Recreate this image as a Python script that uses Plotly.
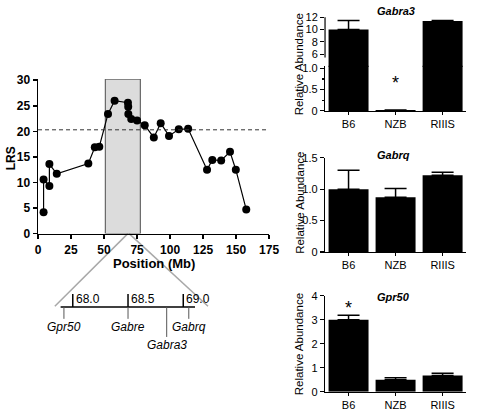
import plotly.graph_objects as go

W, H = 480, 413

# ---------------- data ----------------
position_mb = [4.2, 4.2, 8.6, 8.6, 14.2, 38.1, 43.0, 46.4, 53.0, 58.0, 68.1, 68.3, 68.4,
               70.6, 75.0, 80.8, 87.7, 92.9, 99.2, 106.6, 113.7, 128.0, 132.0, 138.7,
               145.4, 149.8, 157.7]
lrs = [4.2, 10.6, 9.3, 13.6, 11.7, 13.7, 16.9, 17.0, 23.4, 26.0, 25.6, 24.8, 23.4,
       22.4, 22.1, 21.2, 18.8, 21.6, 19.1, 20.4, 20.5, 12.5, 14.4, 14.3, 16.0, 12.5, 4.7]
threshold = 20.3
region_mb = [51.0, 77.5]
zoom_mb = [68.0, 69.0]

map_ticks = [68.0, 68.5, 69.0]
map_tick_labels = ["68.0", "68.5", "69.0"]
map_extent = [67.89, 69.106]
genes = ["Gpr50", "Gabre", "Gabra3", "Gabrq"]
gene_pos = [67.92, 68.5, 68.85, 69.05]

strains = ["B6", "NZB", "RIIIS"]
gabra3 = [10.0, 0.02, 11.4]
gabra3_err = [1.5, 0.0, 0.1]
gabrq = [1.0, 0.87, 1.22]
gabrq_err = [0.30, 0.14, 0.05]
gpr50 = [3.0, 0.5, 0.68]
gpr50_err = [0.19, 0.08, 0.09]

FONT = "Liberation Sans, Arial, sans-serif"


def fx(px):
    return px / W


def fy(py):
    return 1 - py / H


fig = go.Figure()

# ---------------- LRS plot ----------------
fig.add_trace(go.Scatter(
    x=position_mb, y=lrs, mode="lines+markers",
    line=dict(color="black", width=1.2),
    marker=dict(color="black", size=8),
    xaxis="x", yaxis="y", showlegend=False, cliponaxis=False))

fig.add_shape(type="rect", xref="x", yref="y", x0=region_mb[0], x1=region_mb[1],
              y0=0, y1=30.2, fillcolor="#dcdcdc", line=dict(color="#666", width=1.2),
              layer="below")
fig.add_shape(type="line", xref="x", yref="y", x0=0, x1=175, y0=threshold, y1=threshold,
              line=dict(color="#333", width=1, dash="4px,3px"))

# ---------------- gene map ----------------
y_line = 413 - 310.7
fig.add_trace(go.Scatter(x=map_extent, y=[y_line, y_line], mode="lines",
                         line=dict(color="black", width=1.5), xaxis="x2", yaxis="y2",
                         showlegend=False, hoverinfo="skip"))
for t in map_ticks:
    fig.add_trace(go.Scatter(x=[t, t], y=[y_line, y_line + 13.4], mode="lines",
                             line=dict(color="black", width=1.5), xaxis="x2", yaxis="y2",
                             showlegend=False, hoverinfo="skip"))
for t, lab in zip(map_ticks, map_tick_labels):
    fig.add_annotation(x=t, y=y_line + 8.5, xref="x2", yref="y2", text=lab,
                       showarrow=False, xanchor="left", yanchor="middle", xshift=1,
                       font=dict(family=FONT, size=12, color="black"))
for g, p in zip(genes, gene_pos):
    depth = 31 if g == "Gabra3" else 12.3
    fig.add_trace(go.Scatter(x=[p, p], y=[y_line, y_line - depth], mode="lines",
                             line=dict(color="#555", width=1), xaxis="x2", yaxis="y2",
                             showlegend=False, hoverinfo="skip"))
    fig.add_annotation(x=p, y=y_line - depth - 8.5, xref="x2", yref="y2",
                       text="<i>%s</i>" % g, showarrow=False, xanchor="center",
                       yanchor="middle", font=dict(family=FONT, size=12, color="black"))

# zoom connector lines (paper)
main_x0, main_x1 = 36, 273.5
def main_px(mb):
    return main_x0 + (main_x1 - main_x0) * mb / 175.0

fig.add_shape(type="line", xref="paper", yref="paper",
              x0=fx(main_px(zoom_mb[0])), y0=fy(235), x1=fx(53.3), y1=fy(310),
              line=dict(color="#a8a8a8", width=1.5), layer="below")
fig.add_shape(type="line", xref="paper", yref="paper",
              x0=fx(main_px(zoom_mb[1])), y0=fy(235), x1=fx(210.7), y1=fy(310),
              line=dict(color="#a8a8a8", width=1.5), layer="below")

# ---------------- bar panels ----------------
bar_style = dict(marker=dict(color="black", line=dict(width=0)), showlegend=False,
                 hoverinfo="skip")


def err(vals):
    return dict(type="data", array=vals, arrayminus=[0] * len(vals), symmetric=False,
                color="black", thickness=1.5, width=11)


fig.add_trace(go.Bar(x=strains, y=gabra3, error_y=err(gabra3_err), xaxis="x3", yaxis="y3", **bar_style))
fig.add_trace(go.Bar(x=strains, y=gabra3, error_y=err(gabra3_err), xaxis="x3", yaxis="y4", **bar_style))
fig.add_trace(go.Bar(x=strains, y=gabrq, error_y=err(gabrq_err), xaxis="x4", yaxis="y5", **bar_style))
fig.add_trace(go.Bar(x=strains, y=gpr50, error_y=err(gpr50_err), xaxis="x5", yaxis="y6", **bar_style))

# broken axis upper line
fig.add_shape(type="line", xref="paper", yref="paper", x0=fx(331), x1=fx(331),
              y0=fy(53.3), y1=fy(11.7), line=dict(color="black", width=1.2))

# ---------------- axes ----------------
bold_tick = dict(family=FONT, size=12, color="black", weight="bold")
reg_tick = dict(family=FONT, size=11, color="black")

main_axis = dict(showline=True, linecolor="black", linewidth=1.5, ticks="outside",
                 ticklen=4, tickwidth=1.5, tickcolor="black", showgrid=False,
                 zeroline=False, tickfont=bold_tick)

xr = dict(showline=True, linecolor="black", linewidth=1.2, ticks="outside", ticklen=3,
          tickwidth=1.2, tickcolor="black", showgrid=False, zeroline=False,
          tickfont=reg_tick, range=[-0.5, 2.5], domain=[fx(331), fx(476)],
          fixedrange=True)
yr = dict(showline=True, linecolor="black", linewidth=1.2, ticks="outside", ticklen=4,
          tickwidth=1.2, tickcolor="black", showgrid=False, zeroline=False,
          tickfont=reg_tick, fixedrange=True)

fig.update_layout(
    width=W, height=H, margin=dict(l=0, r=0, t=0, b=0),
    paper_bgcolor="white", plot_bgcolor="rgba(0,0,0,0)",
    bargap=0.15, showlegend=False,
    font=dict(family=FONT, color="black"),
    xaxis=dict(main_axis, domain=[fx(main_x0), fx(main_x1)], range=[0, 175],
               tickvals=[0, 25, 50, 75, 100, 125, 150, 175], anchor="y"),
    yaxis=dict(main_axis, domain=[fy(235), fy(75.3)], range=[0, 30.25],
               tickvals=[0, 5, 10, 15, 20, 25, 30], anchor="x"),
    xaxis2=dict(domain=[fx(49), fx(208)], range=[67.8, 69.2], visible=False, anchor="y2"),
    yaxis2=dict(domain=[fy(362), fy(290)], range=[413 - 362, 413 - 290], visible=False,
                anchor="x2"),
    xaxis3=dict(xr, anchor="y3"),
    yaxis3=dict(yr, domain=[fy(108.3), fy(61.7)], range=[0, 1.06],
                tickvals=[0, 0.5, 1.0], ticktext=["0", "0.5", "1.0"], anchor="x3",
                minor=dict(tickvals=[0.25, 0.75], ticklen=2, tickwidth=1.2,
                           tickcolor="black", ticks="outside")),
    yaxis4=dict(yr, showline=False, domain=[fy(63.0), fy(11.7)],
                range=[12 - 51.3 / 6.33, 12], tickvals=[6, 8, 10, 12], anchor="x3"),
    xaxis4=dict(xr, anchor="y5"),
    yaxis5=dict(yr, domain=[fy(254), fy(156.7)], range=[0, 1.5],
                tickvals=[0, 0.5, 1.0, 1.5], ticktext=["0", "0.5", "1.0", "1.5"],
                anchor="x4"),
    xaxis5=dict(xr, anchor="y6"),
    yaxis6=dict(yr, domain=[fy(398.3), fy(299.3)], range=[0, 4],
                tickvals=[0, 1, 2, 3, 4], anchor="x5"),
)

# ---------------- text ----------------
def ann(text, x, y, size, xanchor="center", **kw):
    fig.add_annotation(text=text, x=fx(x), y=fy(y), xref="paper", yref="paper",
                       showarrow=False, xanchor=xanchor, yanchor="middle",
                       font=dict(family=FONT, size=size, color="black"), **kw)

ann("<b>Position (Mb)</b>", 154.8, 265.5, 13)
ann("<b>LRS</b>", 8.5, 157, 12, textangle=-90)

ann("Relative Abundance", 304.5, 60, 11.5, textangle=-90)
ann("Relative Abundance", 304.5, 203, 11.5, textangle=-90)
ann("Relative Abundance", 304.5, 349, 11.5, textangle=-90)

ann("<b><i>Gabra3</i></b>", 382, 5, 11, xanchor="left")
ann("<b><i>Gabrq</i></b>", 382, 154, 11, xanchor="left")
ann("<b><i>Gpr50</i></b>", 382, 300, 11, xanchor="left")

fig.add_annotation(text="*", x="NZB", y=0.66, xref="x3", yref="y3", showarrow=False,
                   font=dict(family=FONT, size=18, color="black"), xanchor="center",
                   yanchor="middle")
fig.add_annotation(text="*", x="B6", y=3.48, xref="x5", yref="y6", showarrow=False,
                   font=dict(family=FONT, size=18, color="black"), xanchor="center",
                   yanchor="middle")

fig.write_html("out.html", config={"displayModeBar": False, "staticPlot": True},
               post_script="document.body.style.margin='0';document.body.style.overflow='hidden';")
